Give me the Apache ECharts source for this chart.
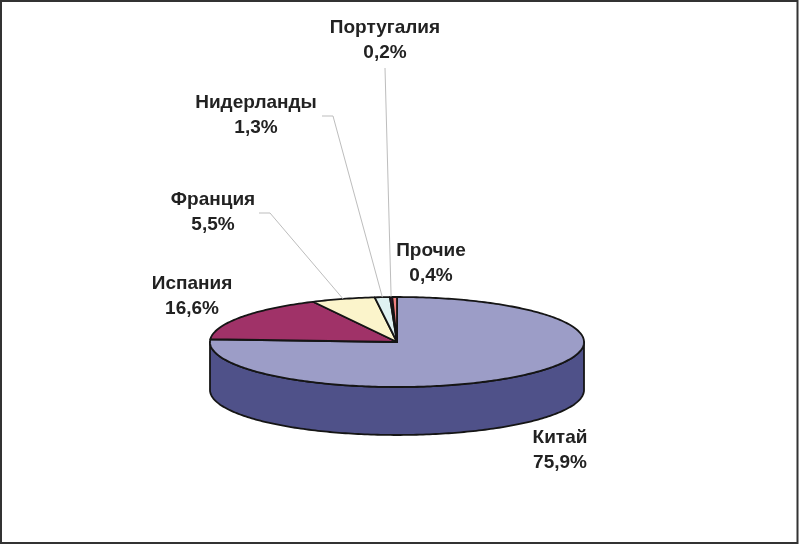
<!DOCTYPE html>
<html>
<head>
<meta charset="utf-8">
<style>html,body{margin:0;padding:0;background:#fff}#chart{width:800px;height:545px}</style>
<script src="https://cdn.jsdelivr.net/npm/echarts@6/dist/echarts.min.js"></script>
</head>
<body>
<div id="chart"></div>
<script>
// Data, in the drawing order of the reference (clockwise from the top)
var categories = ['Китай', 'Испания', 'Франция', 'Нидерланды', 'Португалия', 'Прочие'];
var values = [75.9, 16.6, 5.5, 1.3, 0.2, 0.4];
var valueLabels = ['75,9%', '16,6%', '5,5%', '1,3%', '0,2%', '0,4%'];

// Presentation
var topColors = ['#9c9dc7', '#a03268', '#fbf4cb', '#dff1f1', '#660066', '#f08080'];
var wallColors = ['#4f5189', '#5e1a3e', '#a09a70', '#8a9a9a', '#3a003a', '#904848'];
var labelPlaces = [[560, 450], [192, 296], [213, 212], [256, 115], [385, 40], [431, 263]];
var leaderBends = [null, null, [[259, 213], [270, 213]], [[322, 116], [333, 116]], [[385, 68]], null];

var CX = 397, CY = 342, RX = 187, RY = 45, DEPTH = 48;
var total = values.reduce(function (a, b) { return a + b; }, 0);

function pt(deg, dy) {
  var r = deg * Math.PI / 180;
  return [CX + RX * Math.sin(r), CY - RY * Math.cos(r) + (dy || 0)];
}
function arc(a, b, dy) {
  var out = [], n = Math.max(2, Math.ceil(Math.abs(b - a)));
  for (var i = 0; i <= n; i++) out.push(pt(a + (b - a) * i / n, dy));
  return out;
}
var edgeStyle = { stroke: '#151515', lineWidth: 1.8, lineJoin: 'round' };

function renderSlice(params, api) {
  var i = params.dataIndex, before = 0;
  for (var k = 0; k < i; k++) before += values[k];
  var a = before / total * 360;
  var b = a + api.value(0) / total * 360;
  var children = [];

  // front wall: only the part of the rim facing the viewer
  var wa = Math.max(a, 90), wb = Math.min(b, 270);
  if (wb > wa) {
    children.push({
      type: 'polygon',
      shape: { points: arc(wa, wb, 0).concat(arc(wb, wa, DEPTH)) },
      style: Object.assign({ fill: wallColors[i] }, edgeStyle)
    });
  }
  // top face
  children.push({
    type: 'polygon',
    shape: { points: [[CX, CY]].concat(arc(a, b, 0)) },
    style: Object.assign({ fill: topColors[i] }, edgeStyle)
  });
  // leader line from the label to the middle of the slice rim
  if (leaderBends[i]) {
    children.push({
      type: 'polyline',
      shape: { points: leaderBends[i].concat([pt((a + b) / 2, 0)]) },
      style: { stroke: '#bdbdbd', lineWidth: 1, fill: null }
    });
  }
  // label
  children.push({
    type: 'text',
    z2: 10,
    style: {
      x: labelPlaces[i][0], y: labelPlaces[i][1],
      text: categories[i] + '\n' + valueLabels[i],
      align: 'center', verticalAlign: 'middle',
      font: 'bold 19px "Liberation Sans", Arial, sans-serif',
      lineHeight: 25, fill: '#222222'
    }
  });
  return { type: 'group', children: children };
}

var chart = echarts.init(document.getElementById('chart'), null, { renderer: 'canvas' });
chart.setOption({
  animation: false,
  backgroundColor: '#ffffff',
  graphic: [{
    type: 'rect',
    silent: true,
    shape: { x: 1, y: 1, width: 796.5, height: 542 },
    style: { fill: 'none', stroke: '#333333', lineWidth: 2 }
  }],
  series: [{
    type: 'custom',
    coordinateSystem: 'none',
    renderItem: renderSlice,
    data: values.map(function (v, i) { return { name: categories[i], value: [v] }; }),
    silent: true
  }]
});
</script>
</body>
</html>
